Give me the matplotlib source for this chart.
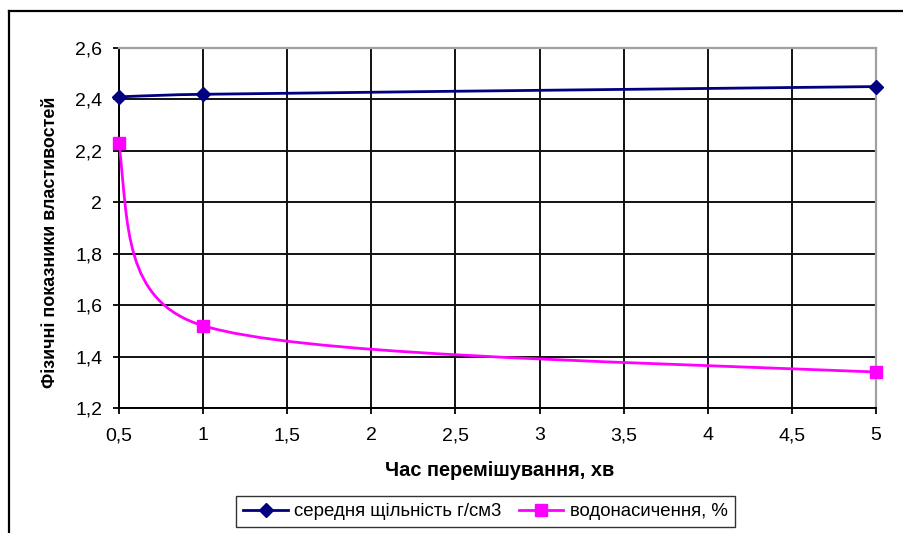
import numpy as np
import matplotlib
matplotlib.use("Agg")
import matplotlib.pyplot as plt
from matplotlib.path import Path
from matplotlib.patches import PathPatch
from matplotlib.lines import Line2D

plt.rcParams['font.family'] = ['Liberation Sans', 'DejaVu Sans']

# дані
mix_time = [0.5, 1, 5]
density = [2.41, 2.42, 2.45]
water_sat = [2.23, 1.52, 1.34]

x_ticks = [0.5, 1, 1.5, 2, 2.5, 3, 3.5, 4, 4.5, 5]
x_tick_labels = ['0,5', '1', '1,5', '2', '2,5', '3', '3,5', '4', '4,5', '5']
y_ticks = [1.2, 1.4, 1.6, 1.8, 2.0, 2.2, 2.4, 2.6]
y_tick_labels = ['1,2', '1,4', '1,6', '1,8', '2', '2,2', '2,4', '2,6']

label_density = 'середня щільність г/см3'
label_water = 'водонасичення, %'
navy = '#000080'
magenta = '#FF00FF'


def smooth_path(ax, xs, ys):
    # згладжена лінія як у Excel: кубічні криві Безьє у координатах екрана
    pts = ax.transData.transform(np.column_stack([xs, ys]))
    n = len(pts)
    c_in, c_out = {}, {}
    for i in range(1, n - 1):
        chord = pts[i + 1] - pts[i - 1]
        clen = np.hypot(*chord)
        u = chord / clen
        seg_in = np.hypot(*(pts[i] - pts[i - 1]))
        seg_out = np.hypot(*(pts[i + 1] - pts[i]))
        c_in[i] = pts[i] - u * min(clen / 8, 0.42 * seg_in)
        c_out[i] = pts[i] + u * min(clen / 8, 0.42 * seg_out)
    # кінцеві точки: напрямок на сусідню контрольну точку
    first_aim = 0.8 * c_in[1] + 0.2 * pts[1]
    last_aim = 0.8 * c_out[n - 2] + 0.2 * pts[n - 2]
    c_out[0] = pts[0] + (first_aim - pts[0]) / 2
    c_in[n - 1] = pts[-1] + (last_aim - pts[-1]) / 2
    verts = [pts[0]]
    codes = [Path.MOVETO]
    for i in range(n - 1):
        verts += [c_out[i], c_in[i + 1], pts[i + 1]]
        codes += [Path.CURVE4] * 3
    inv = ax.transData.inverted()
    return Path(inv.transform(np.array(verts)), codes)


fig = plt.figure(figsize=(9.04, 5.33), dpi=100)
ax = fig.add_axes([119 / 904, 1 - 408 / 533, 757 / 904, 360 / 533])

ax.set_xlim(0.5, 5)
ax.set_ylim(1.2, 2.6)
ax.set_xticks(x_ticks)
ax.set_xticklabels(x_tick_labels)
ax.set_yticks(y_ticks)
ax.set_yticklabels(y_tick_labels)
ax.tick_params(direction='out', length=4, width=1.3, colors='black',
               labelsize=14)
ax.tick_params(axis='y', pad=8)
ax.tick_params(axis='x', pad=10)

ax.grid(True, color='#111111', linewidth=1.4)
ax.set_axisbelow(True)
for side in ['left', 'bottom']:
    ax.spines[side].set_color('black')
    ax.spines[side].set_linewidth(1.4)
for side in ['top', 'right']:
    ax.spines[side].set_color('#a0a0a0')
    ax.spines[side].set_linewidth(1.6)

for ys, col in [(density, navy), (water_sat, magenta)]:
    ax.add_patch(PathPatch(smooth_path(ax, mix_time, ys), fill=False,
                           edgecolor=col, linewidth=2.0, zorder=3))
ax.plot(mix_time, density, ls='none', marker='D', ms=7.5, color=navy,
        zorder=4, clip_on=False)
ax.plot(mix_time, water_sat, ls='none', marker='s', ms=8.5, color=magenta,
        zorder=4, clip_on=False)

ax.set_xlabel('Час перемішування, хв', fontsize=14.4, fontweight='bold')
ax.xaxis.set_label_coords(0.503, -0.147)
ax.set_ylabel('Фізичні показники властивостей', fontsize=12.9,
              fontweight='bold', va='center')
ax.yaxis.set_label_coords(-0.090, 0.461)

handles = [
    Line2D([], [], color=navy, lw=2.0, marker='D', ms=7.5),
    Line2D([], [], color=magenta, lw=2.0, marker='s', ms=8.5),
]
leg = fig.legend(handles, [label_density, label_water], loc='center',
                 bbox_to_anchor=(485.5 / 904, 1 - 511.5 / 533), ncol=2,
                 fontsize=13.4, frameon=True, fancybox=False, handlelength=2.4,
                 handletextpad=0.35, columnspacing=0.9, borderpad=0.4,
                 borderaxespad=0)
leg.get_frame().set_edgecolor('black')
leg.get_frame().set_linewidth(1.0)

# рамка діаграми
x0 = 8.5 / 904
y0 = 1 - 10.5 / 533
fig.add_artist(Line2D([x0, x0], [0, y0], color='black', lw=1.6))
fig.add_artist(Line2D([x0, 1], [y0, y0], color='black', lw=1.6))

fig.savefig('out.png', dpi=100, facecolor='white')
